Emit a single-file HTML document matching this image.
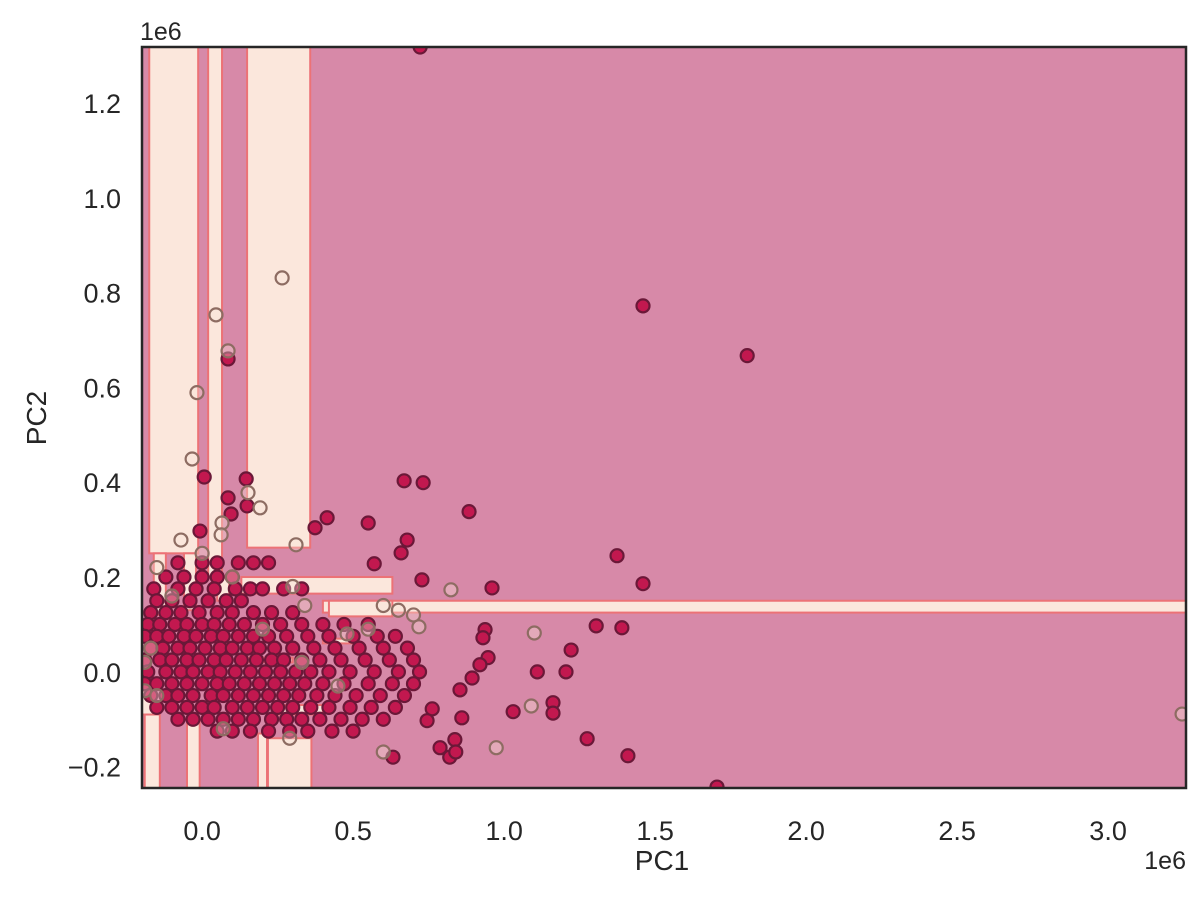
<!DOCTYPE html>
<html><head><meta charset="utf-8"><style>
body{margin:0;background:#fff;}
svg{display:block;font-family:"Liberation Sans","DejaVu Sans",sans-serif;}
</style></head><body>
<svg id="chart" width="1202" height="900" viewBox="0 0 1202 900" xmlns="http://www.w3.org/2000/svg">
<defs><clipPath id="pc"><rect x="142" y="47" width="1044" height="741"/></clipPath></defs>
<rect x="142" y="47" width="1044" height="741" fill="#d789a8"/>
<g id="regions" clip-path="url(#pc)"></g>
<g id="points" clip-path="url(#pc)"></g>
<rect x="142" y="47" width="1044" height="741" fill="none" stroke="#262626" stroke-width="2.5"/>
<g id="xticks"></g>
<g id="yticks"></g>
<text x="662" y="870" font-size="28" fill="#262626" text-anchor="middle">PC1</text>
<text x="46" y="418" font-size="28" fill="#262626" text-anchor="middle" transform="rotate(-90 46 418)">PC2</text>
<text x="1186" y="869" font-size="25" fill="#262626" text-anchor="end">1e6</text>
<text x="140" y="40" font-size="25" fill="#262626">1e6</text>
</svg>
<script>
const xTicks=[0.0,0.5,1.0,1.5,2.0,2.5,3.0];
const xTickLabels=["0.0","0.5","1.0","1.5","2.0","2.5","3.0"];
const yTicks=[-0.2,0.0,0.2,0.4,0.6,0.8,1.0,1.2];
const yTickLabels=["\u22120.2","0.0","0.2","0.4","0.6","0.8","1.0","1.2"];
// light class regions [x0,x1,y0,y1] in 1e6 units
const lightRegions=[[-0.175,-0.013,0.25,1.4],[0.02,0.066,0.2,1.4],[0.149,0.358,0.262,1.4],
[0.13,0.63,0.165,0.2],[0.40,3.4,0.125,0.15],[0.42,0.63,0.117,0.15],
[-0.19,-0.14,-0.3,-0.09],[-0.05,-0.008,-0.3,-0.1],[0.185,0.215,-0.3,-0.13],[0.218,0.362,-0.3,-0.14],
[-0.2,-0.16,-0.09,-0.04],[-0.16,-0.12,0.12,0.25],[-0.06,-0.02,0.13,0.25],[0.05,0.09,0.15,0.2],
[0.25,0.4,-0.09,-0.07],[0.15,0.3,0.02,0.03],[0.4,0.5,0.06,0.07]];
const filledOutliers=[[1.46,0.772],[1.805,0.667],[0.722,1.318],[1.705,-0.243],[1.374,0.245],[1.46,0.186],[1.305,0.097],[1.39,0.093],[1.222,0.046],[1.205,0],[1.11,0],[1.03,-0.084],[1.162,-0.065],[1.162,-0.087],[1.275,-0.141],[1.41,-0.177],[0.96,0.177],[0.884,0.338],[0.669,0.403],[0.732,0.399],[0.55,0.314],[0.414,0.325],[0.937,0.089],[0.93,0.072],[0.947,0.03],[0.92,0.015],[0.894,-0.013],[0.854,-0.038],[0.86,-0.097],[0.837,-0.143],[0.82,-0.18],[0.762,-0.078],[0.632,-0.18],[0.788,-0.16],[0.84,-0.169],[0.745,-0.103],[0.086,0.66],[0.007,0.411],[0.146,0.407],[0.149,0.35],[0.086,0.367],[0.096,0.333],[-0.007,0.297],[0.374,0.304],[0.57,0.228],[0.659,0.251],[0.679,0.278],[0.728,0.194]];
const hollowPoints=[[3.245,-0.089],[1.09,-0.072],[0.974,-0.16],[1.1,0.082],[0.6,-0.169],[0.265,0.831],[0.046,0.753],[0.086,0.677],[-0.017,0.589],[-0.033,0.449],[0.152,0.378],[0.192,0.346],[0.066,0.314],[0.063,0.289],[-0.07,0.278],[0.311,0.268],[0.824,0.173],[0.718,0.095],
[-0.17,0.05],[-0.19,0.02],[0.2,0.09],[0.33,0.02],[0.48,0.08],[0.55,0.09],[0.6,0.14],[0.65,0.13],[0.7,0.12],[0.34,0.14],[0.3,0.18],[-0.15,0.22],[-0.1,0.16],[0.1,0.2],[0.0,0.25],[-0.19,-0.04],[-0.15,-0.05],[0.07,-0.12],[0.29,-0.14],[0.45,-0.03]];
const clusterYs=[0.23,0.2,0.175,0.15,0.125,0.1,0.075,0.05,0.025,0.0,-0.025,-0.05,-0.075,-0.1,-0.125];
const clusterXs=[
[-0.08,0.0,0.05,0.12,0.17,0.22],
[-0.12,-0.06,0.0,0.05,0.1],
[-0.16,-0.08,-0.02,0.04,0.11,0.16,0.2,0.27,0.33],
[-0.15,-0.1,-0.04,0.02,0.08,0.13],
[-0.17,-0.12,-0.07,-0.01,0.05,0.1,0.17,0.23,0.3],
[-0.18,-0.14,-0.09,-0.05,0.0,0.04,0.09,0.14,0.2,0.26,0.33,0.4,0.47,0.55],
[-0.19,-0.15,-0.11,-0.06,-0.02,0.03,0.07,0.12,0.17,0.22,0.28,0.35,0.42,0.5,0.58,0.64],
[-0.17,-0.13,-0.08,-0.04,0.01,0.06,0.1,0.15,0.19,0.24,0.3,0.37,0.44,0.52,0.6,0.68],
[-0.19,-0.14,-0.1,-0.05,-0.01,0.04,0.08,0.13,0.18,0.23,0.27,0.33,0.39,0.46,0.54,0.62,0.7],
[-0.18,-0.12,-0.07,-0.03,0.02,0.06,0.11,0.16,0.21,0.26,0.31,0.36,0.42,0.49,0.57,0.65,0.72],
[-0.19,-0.15,-0.1,-0.05,0.0,0.05,0.09,0.14,0.19,0.24,0.29,0.34,0.4,0.47,0.55,0.63,0.7],
[-0.17,-0.12,-0.08,-0.03,0.03,0.07,0.12,0.17,0.22,0.27,0.32,0.38,0.44,0.51,0.59,0.67],
[-0.15,-0.1,-0.05,0.0,0.04,0.1,0.15,0.2,0.25,0.3,0.36,0.42,0.49,0.56,0.64],
[-0.08,-0.03,0.02,0.07,0.12,0.17,0.23,0.28,0.33,0.39,0.46,0.53,0.6],
[0.05,0.1,0.16,0.22,0.29,0.35,0.43,0.5]];
const X0=-0.199,X1=3.258,Y0=-0.245,Y1=1.318;
function sx(v){return 142+(v-X0)/(X1-X0)*1044;}
function sy(v){return 788-(v-Y0)/(Y1-Y0)*741;}
const NS="http://www.w3.org/2000/svg";
function mk(t,a){const e=document.createElementNS(NS,t);for(const k in a)e.setAttribute(k,a[k]);return e;}
const R=document.getElementById('regions');
lightRegions.forEach(r=>{
 const x=sx(r[0]),w=sx(r[1])-x,y=sy(r[3]),h=sy(r[2])-y;
 const e=mk('rect',{x:x,y:y,width:w,height:h,fill:'#fbe7dc',stroke:'#ec7276','stroke-width':2});
 
 
 R.appendChild(e);
});
const P=document.getElementById('points');
function dot(p,hollow){
 const e=mk('circle',{cx:sx(p[0]),cy:sy(p[1]),r:6.5,fill:hollow?'rgba(250,228,218,0.35)':'#c2184f',stroke:hollow?'#8d6c62':'#6a1838','stroke-width':2.2});
 
 
 P.appendChild(e);
}
clusterYs.forEach((y,i)=>clusterXs[i].forEach(x=>dot([x,y],false)));
filledOutliers.forEach(p=>dot(p,false));
hollowPoints.forEach(p=>dot(p,true));
const XT=document.getElementById('xticks');
xTicks.forEach((v,i)=>{const e=mk('text',{x:sx(v),y:840,'font-size':27,fill:'#262626','text-anchor':'middle'});e.textContent=xTickLabels[i];
 
 
 XT.appendChild(e);});
const YT=document.getElementById('yticks');
yTicks.forEach((v,i)=>{const e=mk('text',{x:121,y:sy(v)+10,'font-size':27,fill:'#262626','text-anchor':'end'});e.textContent=yTickLabels[i];
 
 
 YT.appendChild(e);});
</script>
</body></html>
